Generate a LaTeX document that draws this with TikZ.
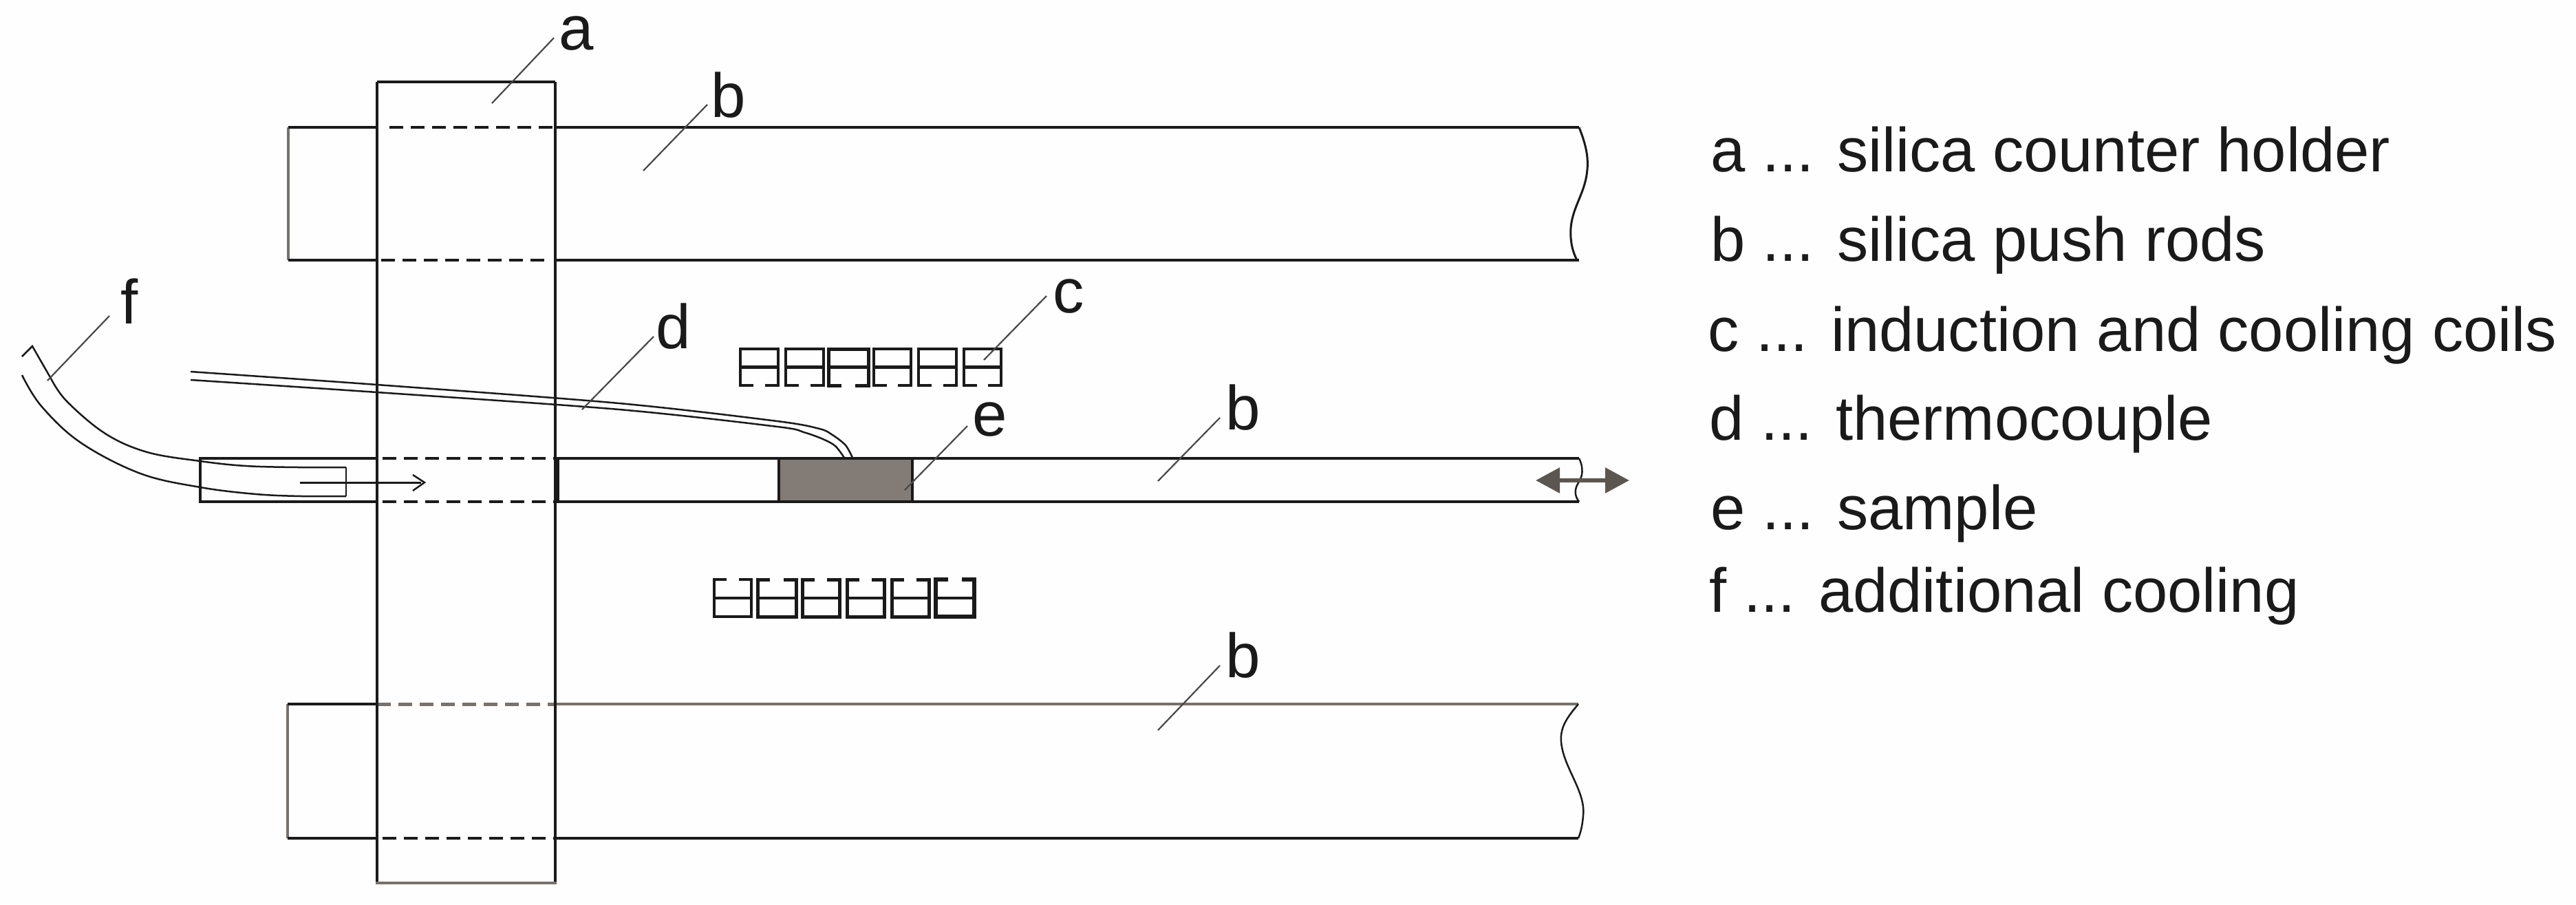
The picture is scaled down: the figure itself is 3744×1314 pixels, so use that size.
\documentclass[tikz,border=0pt]{standalone}
\usepackage{fontspec}
\setmainfont{Liberation Sans}
\usetikzlibrary{arrows.meta}
\definecolor{ink}{HTML}{1A1A1A}
\definecolor{soft}{HTML}{77726D}
\definecolor{samplegrey}{HTML}{837C76}
\definecolor{arrowgrey}{HTML}{5C5650}
\definecolor{paper}{HTML}{FEFEFE}
\tikzset{
  solidline/.style={draw=ink,line width=0.04cm,line join=miter,line cap=butt},
  softline/.style={draw=soft,line width=0.045cm,line join=miter},
  hidden/.style={draw=ink,line width=0.04cm,dash pattern=on 0.2cm off 0.11cm},
  softhidden/.style={draw=soft,line width=0.05cm,dash pattern=on 0.2cm off 0.11cm},
  thinline/.style={draw=ink,line width=0.025cm},
  leaderline/.style={draw=ink!80,line width=0.022cm},
  callout/.style={inner sep=0pt,outer sep=0pt,anchor=base west,text=ink,font=\fontsize{25.8}{30}\selectfont},
  legendtext/.style={inner sep=0pt,outer sep=0pt,anchor=base west,text=ink,font=\fontsize{25.7}{30}\selectfont},
}
\begin{document}
\begin{tikzpicture}[x=0.01cm,y=-0.01cm]
\useasboundingbox (0,0) rectangle (3744,1314);
\fill[paper] (0,0) rectangle (3744,1314);

% top push rod
\draw[softline] (419,185) -- (419,378);
\draw[solidline] (419,185) -- (548,185);
\draw[solidline] (419,378) -- (548,378);
\draw[hidden] (566,185) -- (807,185);
\draw[hidden] (554,378) -- (795,378);
\draw[solidline] (807,185) -- (2295,185);
\draw[solidline] (807,378) -- (2295,378);
\draw[solidline,line width=0.03cm] (2295,185) .. controls (2303,205) and (2309,225) .. (2307,246) .. controls (2304,285) and (2280,305) .. (2283,345) .. controls (2284,360) and (2288,370) .. (2292,378);

% bottom push rod
\draw[softline] (418,1023) -- (418,1218);
\draw[solidline] (418,1023) -- (548,1023);
\draw[solidline] (418,1218) -- (548,1218);
\draw[softhidden] (548,1023) -- (807,1023);
\draw[hidden] (556,1218) -- (807,1218);
\draw[softline] (807,1023) -- (2294,1023);
\draw[solidline] (807,1218) -- (2294,1218);
\draw[thinline] (2294,1023) .. controls (2280,1040) and (2267,1055) .. (2269,1078) .. controls (2272,1115) and (2305,1150) .. (2301,1185) .. controls (2300,1200) and (2297,1210) .. (2294,1218);

% counter holder
\draw[solidline] (548,119) -- (807,119);
\draw[solidline] (548,119) -- (548,1283);
\draw[solidline] (807,119) -- (807,1283);
\draw[softline] (546,1283) -- (809,1283);

% middle push rod
\draw[solidline] (291,666) rectangle (548,729);
\draw[hidden] (556,666) -- (807,666);
\draw[hidden] (556,729) -- (807,729);
\draw[solidline] (811,666) -- (811,729);
\draw[solidline] (807,666) -- (2295,666);
\draw[solidline] (807,729) -- (2295,729);
\draw[thinline] (2295,666) .. controls (2302,680) and (2300,692) .. (2295,700) .. controls (2288,710) and (2288,720) .. (2295,729);

% sample
\draw[solidline,fill=samplegrey] (1132,666) rectangle (1326,729);

% additional cooling tube
\draw[thinline] (32,518) -- (47,503) -- (74,550);
\draw[thinline] plot[smooth,tension=0.6] coordinates {(74,550) (97,583) (153,630) (214,657) (291,670) (357,677) (434,679) (503,679)};
\draw[thinline] (503,679) -- (503,721);
\draw[thinline] plot[smooth,tension=0.6] coordinates {(32,545) (60,590) (117,643) (204,688) (291,708) (372,718) (439,721) (503,721)};

% flow arrow
\draw[solidline,line width=0.03cm] (436,701) -- (612,701);
\draw[thinline] (600,690) -- (617,701) -- (600,713);

% thermocouple
\draw[thinline] plot[smooth,tension=0.5] coordinates {(277,540) (548,559) (900,586) (1130,612) (1191,623) (1210,632) (1229,647) (1239,665)};
\draw[thinline] plot[smooth,tension=0.5] coordinates {(277,552) (548,570) (900,595) (1130,620) (1168,628) (1196,638) (1214,648) (1227,665)};

% upper coils
\foreach \l/\r/\w in {1076/1131/0.04,1142/1197/0.04,1204/1262/0.05,1270/1324/0.04,1335/1390/0.04,1401/1455/0.04}{
  \draw[draw=ink,line width=\w cm] ({\l+19},560) -- (\l,560) -- (\l,507) -- (\r,507) -- (\r,560) -- ({\r-19},560);
  \draw[draw=ink,line width=0.05cm] (\l,533) -- (\r,533);
}
% lower coils
\foreach \l/\r/\w in {1038/1092/0.035,1101/1157/0.05,1166/1220/0.05,1231/1285/0.05,1296/1350/0.05,1360/1416/0.06}{
  \draw[draw=ink,line width=\w cm] ({\l+18},842) -- (\l,842) -- (\l,896) -- (\r,896) -- (\r,842) -- ({\r-18},842);
  \draw[draw=ink,line width=0.04cm] (\l,869) -- (\r,869);
}

% drive arrow
\draw[draw=arrowgrey,fill=arrowgrey,line width=0.06cm,{Triangle[length=0.35cm,width=0.36cm]}-{Triangle[length=0.35cm,width=0.36cm]}] (2232,698) -- (2368,698);

% callouts
\node[callout] (lbla) at (812,72) {a};
\node[callout] (lblbtop) at (1033,170) {b};
\node[callout] (lblc) at (1530,454) {c};
\node[callout] (lbld) at (953,506) {d};
\node[callout] (lble) at (1413,633) {e};
\node[callout] (lblf) at (175,470) {f};
\node[callout] (lblbmid) at (1781,624) {b};
\node[callout] (lblbbot) at (1781,984) {b};

% leader lines
\coordinate (la1) at (805,55);      \coordinate (la2) at (715,150);
\coordinate (lb1) at (1028,152);    \coordinate (lb2) at (935,248);
\coordinate (lc1) at (1521,430);    \coordinate (lc2) at (1430,523);
\coordinate (ld1) at (950,489);     \coordinate (ld2) at (846,595);
\coordinate (le1) at (1406,619);    \coordinate (le2) at (1315,712);
\coordinate (lf1) at (159,459);     \coordinate (lf2) at (69,553);
\coordinate (lm1) at (1773,607);    \coordinate (lm2) at (1683,699);
\coordinate (ln1) at (1773,967);    \coordinate (ln2) at (1683,1061);
\draw[leaderline] (la1) -- (la2);
\draw[leaderline] (lb1) -- (lb2);
\draw[leaderline] (lc1) -- (lc2);
\draw[leaderline] (ld1) -- (ld2);
\draw[leaderline] (le1) -- (le2);
\draw[leaderline] (lf1) -- (lf2);
\draw[leaderline] (lm1) -- (lm2);
\draw[leaderline] (ln1) -- (ln2);

% legend
\node[legendtext] (lega) at (2486,249) {a ... silica counter holder};
\node[legendtext] (legb) at (2486,379) {b ... silica push rods};
\node[legendtext] (legc) at (2482,510) {c ... induction and cooling coils};
\node[legendtext] (legd) at (2484,639) {d ... thermocouple};
\node[legendtext] (lege) at (2486,769) {e ... sample};
\node[legendtext] (legf) at (2484,889) {f ... additional cooling};
\end{tikzpicture}
\end{document}
